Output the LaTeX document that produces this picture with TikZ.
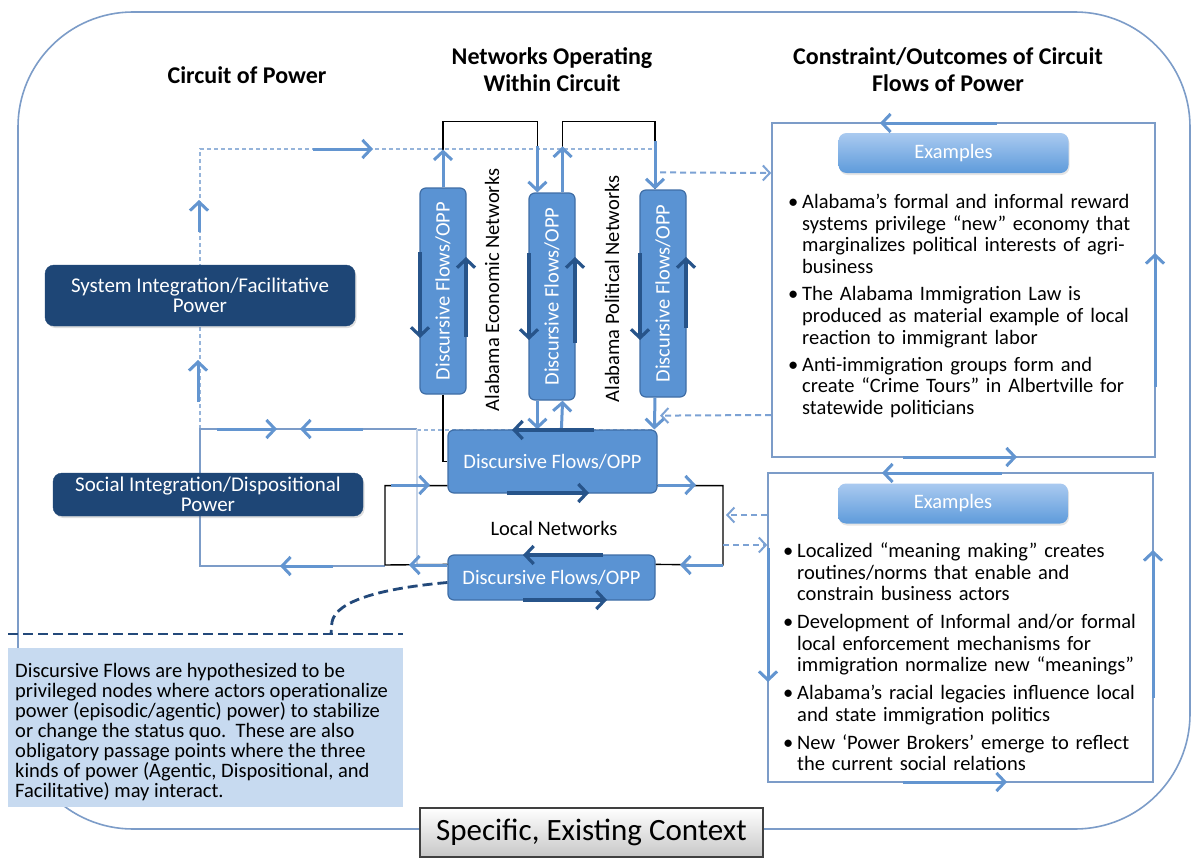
\documentclass[tikz,border=0pt]{standalone}
\usepackage{fontspec}
\setmainfont{Carlito}
\usetikzlibrary{arrows.meta,calc,shadows}
\definecolor{frameblue}{HTML}{7C9CC8}
\definecolor{flowblue}{HTML}{6395D0}
\definecolor{navy}{HTML}{27548A}
\definecolor{boxblue}{HTML}{5A93D3}
\definecolor{boxedge}{HTML}{3F6EA6}
\definecolor{dashblue}{HTML}{96B4DA}
\definecolor{rdash}{HTML}{7CA2D4}
\definecolor{notefill}{HTML}{C7DAF0}
\definecolor{darkbox}{HTML}{1E4676}
\definecolor{navydash}{HTML}{23497A}
\definecolor{extop}{HTML}{AACAF0}
\definecolor{exbot}{HTML}{5E9BDB}
\newcommand\bul[1]{\par\hangindent=14pt\hangafter=1\noindent\makebox[14pt][l]{\textbullet}#1\par}
\begin{document}
\begin{tikzpicture}[x=1pt,y=-1pt,
  body/.style={font=\fontsize{20.5}{21.7}\selectfont},
  hdr/.style={font=\fontsize{24}{27}\selectfont\bfseries, align=center},
  frameline/.style={draw=frameblue, line width=1.6pt},
  thinline/.style={draw=frameblue, line width=1.4pt},
  dline/.style={draw=dashblue, line width=1.5pt, dash pattern=on 4pt off 3pt},
  blk/.style={draw=black, line width=1.4pt},
  flow/.style={draw=flowblue, line width=3pt, -{Straight Barb[length=8.5pt,width=18pt]}},
  dflow/.style={draw=navy, line width=3.2pt, -{Straight Barb[length=8.5pt,width=18pt]}},
  rda/.style={draw=rdash, line width=2pt, dash pattern=on 6pt off 4pt, -{Straight Barb[length=7pt,width=15pt]}},
  navyd/.style={draw=navydash, line width=2.8pt, dash pattern=on 10pt off 5pt},
  dbox/.style={fill=darkbox, draw=darkbox, rounded corners=9pt, text=white, align=center, inner sep=0,
     font=\fontsize{21}{20}\selectfont, drop shadow={opacity=0.25, shadow xshift=1.5pt, shadow yshift=-2pt}},
  vbox/.style={fill=boxblue, draw=boxedge, line width=1.2pt, rounded corners=6pt, inner sep=0, minimum width=46},
  vtext/.style={rotate=90, text=white, font=\fontsize{20.5}{22}\selectfont},
  hbox/.style={vbox, text=white, font=\fontsize{20.5}{22}\selectfont},
  exframe/.style={draw=frameblue, line width=1.6pt, fill=white, inner sep=0},
  exbtn/.style={rounded corners=8pt, top color=extop, bottom color=exbot, draw=none, text=white, inner sep=0,
     minimum width=230, minimum height=40, font=\fontsize{20.5}{22}\selectfont,
     drop shadow={opacity=0.2, shadow xshift=1pt, shadow yshift=-2pt}},
  listtext/.style={body, inner sep=0, text width=380pt, anchor=north west}
]
\useasboundingbox (0,0) rectangle (1195,859);
\fill[white] (0,0) rectangle (1195,859);

% outer frame
\draw[frameline, rounded corners=115pt] (18,12) rectangle (1190,829);

% headers
\node[hdr] (h1) at (247,75) {Circuit of Power};
\node[hdr] (h2) at (552,70) {Networks Operating\\Within Circuit};
\node[hdr] (h3) at (948,70) {Constraint/Outcomes of Circuit\\Flows of Power};

% light loop lines
\draw[dline] (200,429) -- (200,149) -- (657,149);
\draw[dline] (417,430) -- (655,430);
\draw[thinline] (417,429) -- (200,429) -- (200,566) -- (385,566);
\draw[draw=frameblue!45, line width=1.2pt] (417,429) -- (417,565);

% main nodes
\node[dbox, minimum width=310, minimum height=61] (sys) at (200,295.5) {System Integration/Facilitative\\Power};
\node[dbox, minimum width=310, minimum height=43] (soc) at (208,494.5) {Social Integration/Dispositional\\Power};

\node[vbox, minimum height=206] (b1) at (443,291) {};
\node[vbox, minimum height=207] (b2) at (552,296.5) {};
\node[vbox, minimum height=207] (b3) at (663,293.5) {};
\node[vtext] (t1) at (b1) {Discursive Flows/OPP};
\node[vtext] (t2) at (b2) {Discursive Flows/OPP};
\node[vtext] (t3) at (b3) {Discursive Flows/OPP};

\node[hbox, minimum width=209, minimum height=63] (big) at (552.5,461.5) {Discursive Flows/OPP};
\node[hbox, minimum width=207, minimum height=45] (low) at (551.5,577.5) {Discursive Flows/OPP};

\node[body, rotate=90] (econ) at (492,290) {Alabama Economic Networks};
\node[body, rotate=90] (pol) at (612,289) {Alabama Political Networks};
\node[body] (loc) at (554,528) {Local Networks};

% black network frames
\draw[blk] (b1.north) -- ++(0,-66) -| ($(b2.north west)+(9,0)$);
\draw[blk] ($(b2.north east)+(-13,0)$) -- ++(0,-71) -| ($(b3.north)+(-8,0)$);
\draw[blk] (b1.south) |- (big.west);
\draw[blk] ($(big.south west)+(0,-8)$) -| (385,565) -- ($(low.north west)+(0,10)$);
\draw[blk] ($(big.south east)+(0,-8)$) -| (723,565) -- ($(low.north east)+(0,10)$);

% right example boxes
\node[exframe, minimum width=383, minimum height=334] (ex1) at (963.5,290) {};
\node[exframe, minimum width=385, minimum height=309] (ex2) at (960.5,627.5) {};
\node[exbtn] (btn1) at (953.5,153) {Examples};
\node[exbtn] (btn2) at (953,503.5) {Examples};

\node[listtext] (l1) at (788,186.5) {%
\bul{Alabama’s formal and informal reward\newline systems privilege “new” economy that\newline marginalizes political interests of agri-\newline business}\vspace{5.5pt}%
\bul{The Alabama Immigration Law is\newline produced as material example of local\newline reaction to immigrant labor}\vspace{5.5pt}%
\bul{Anti-immigration groups form and\newline create “Crime Tours” in Albertville for\newline statewide politicians}};

\node[listtext] (l2) at (783,535.5) {%
\bul{Localized “meaning making” creates\newline routines/norms that enable and\newline constrain business actors}\vspace{6pt}%
\bul{Development of Informal and/or formal\newline local enforcement mechanisms for\newline immigration normalize new “meanings”}\vspace{6pt}%
\bul{Alabama’s racial legacies influence local\newline and state immigration politics}\vspace{6pt}%
\bul{New ‘Power Brokers’ emerge to reflect\newline the current social relations}};

% note box
\node[fill=notefill, minimum width=395, minimum height=159, inner sep=0] (note) at (205.5,727.5) {};
\node[anchor=north west, inner sep=0, align=left, font=\fontsize{20.5}{20}\selectfont] (notet) at (15,663.5) {Discursive Flows are hypothesized to be\\privileged nodes where actors operationalize\\power (episodic/agentic) power) to stabilize\\or change the status quo.\ \ These are also\\obligatory passage points where the three\\kinds of power (Agentic, Dispositional, and\\Facilitative) may interact.};

% navy dashed connector
\coordinate (hook) at (331,634);
\draw[navyd] (8,634) -- (403,634);
\draw[navyd] ($(low.west)+(0,5)$) .. controls (385,588) and (336,600) .. (332,622) -- (hook);

% context box
\node[top color=white, bottom color=black!22, draw=black!75, line width=1.2pt, minimum width=343, minimum height=49, inner sep=0,
  font=\fontsize{31}{33}\selectfont] (ctx) at (591.5,832.5) {Specific, Existing Context};

% blue flow arrows
\draw[flow] (b1.north) -- ++(0,-38);
\draw[flow] ($(b2.north west)+(9,-46)$) -- ($(b2.north west)+(9,0)$);
\draw[flow] ($(b2.north east)+(-13,0)$) -- ++(0,-46);
\draw[flow] ($(b3.north)+(-8,-48)$) -- ($(b3.north)+(-8,0)$);
\draw[flow] ($(b2.south west)+(9,0)$) -- ($(big.north west)+(90,0)$);
\draw[flow] ($(big.north west)+(114,0)$) -- ($(b2.south east)+(-13,0)$);
\draw[flow] ($(b3.south)+(-8,0)$) -- ($(big.north west)+(207,0)$);

\draw[flow] (313,149) -- (373,149);
\draw[flow] (199,232) -- (199,200);
\draw[flow] (198,402) -- (198,360);
\draw[flow] (217,429) -- (277,429);
\draw[flow] (363,429) -- (300,429);
\draw[flow] (333,566) -- (280,566);

\draw[flow] (391,485) -- (430,485);
\draw[flow] (big.east |- 0,485) -- (696,485);
\draw[flow] (723,565) -- (680,565);
\draw[flow] (low.west |- 0,565) -- (409,565);

% example frame arrows
\draw[flow] (997,123) -- (880,123);
\draw[flow] (1155,387) -- (1155,253);
\draw[flow] (903,457) -- (1017,457);
\draw[flow] (1002,473) -- (882,473);
\draw[flow] (768,548) -- (768,682);
\draw[flow] (1153,698) -- (1153,550);
\draw[flow] (903,782) -- (1007,782);

% dashed links to examples
\draw[rda] ($(b3.north)+(-3,-17)$) -- (ex1.west |- 0,173);
\draw[rda] (ex1.west |- 0,415) -- ($(b3.south)+(-3,18)$);
\draw[rda] (ex2.west |- 0,515) -- (726,515);
\draw[rda] (723,545) -- (ex2.west |- 0,545);

% dark flow arrows on box edges
\draw[dflow] (420,252) -- (420,338);
\draw[dflow] (466,337) -- (466,257);
\draw[dflow] (529,253) -- (529,340);
\draw[dflow] (575,343) -- (575,257);
\draw[dflow] (640,253) -- (640,340);
\draw[dflow] (686,328) -- (686,257);
\draw[dflow] (594,430) -- (512,430);
\draw[dflow] (507,493) -- (589,493);
\draw[dflow] (603,555) -- (523,555);
\draw[dflow] (523,600) -- (607,600);
\end{tikzpicture}
\end{document}
